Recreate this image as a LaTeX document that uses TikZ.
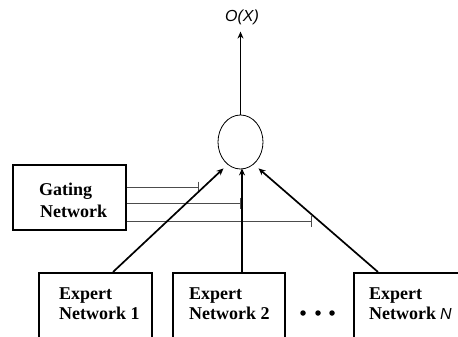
\documentclass[tikz,border=0pt]{standalone}
\usepackage{fontspec}
\setmainfont{Liberation Serif}
\setsansfont{Liberation Sans}
\usetikzlibrary{arrows.meta,calc,shapes.geometric}
\begin{document}
\begin{tikzpicture}[x=1pt,y=-1pt,
  netbox/.style={draw,line width=1.7pt,rectangle,inner sep=0pt},
  lbl/.style={font=\fontsize{18}{21}\selectfont\bfseries,anchor=base west,inner sep=0pt},
  feed/.style={line width=1.7pt,-{Stealth[length=7pt,width=6pt]}},
  gate/.style={line width=0.9pt,draw=black!70,-{Bar[width=11pt,line width=0.9pt]}},
  dotc/.style={circle,fill=black,inner sep=0pt,minimum size=5.5pt}]
\useasboundingbox (0,0) rectangle (458,337);
\begin{scope}
\clip (0,0) rectangle (458,337);
% output unit
\node[ellipse,draw,line width=0.8pt,minimum width=45pt,minimum height=54pt,inner sep=0pt] (c) at (240.5,142) {};
\node[font=\fontsize{16}{18}\sffamily\itshape,inner sep=0pt] (o) at (242,17) {O(X)};
\draw[feed] (c.north) -- ($(c.north)+(0,-83)$) coordinate (otip);
% gating
\node[netbox,minimum width=113pt,minimum height=65pt] (g) at (69.5,197.5) {};
\node[lbl] (g1) at (39,195) {Gating};
\node[lbl] (g2) at (40,217) {Network};
\coordinate (t1) at (199,187);
\coordinate (t2) at (241,203);
\coordinate (t3) at (312,221);
\draw[gate] (g.east |- t1) -- (t1);
\draw[gate] (g.east |- t2) -- (t2);
\draw[gate] (g.east |- t3) -- (t3);
% experts
\node[netbox,minimum width=113pt,minimum height=90pt,anchor=north west] (e1) at (38,272) {};
\node[netbox,minimum width=112pt,minimum height=90pt,anchor=north west] (e2) at (172,272) {};
\node[netbox,minimum width=120pt,minimum height=90pt,anchor=north west] (en) at (353,272) {};
\node[lbl] (e1a) at (59,299) {Expert};
\node[lbl] (e1b) at (59,319) {Network 1};
\node[lbl] (e2a) at (189,299) {Expert};
\node[lbl] (e2b) at (189,319) {Network 2};
\node[lbl] (ena) at (369,299) {Expert};
\node[lbl] (enb) at (369,319) {Network};
\node[font=\fontsize{16}{18}\sffamily\itshape,anchor=base west,inner sep=0pt] (nn) at (440,319) {N};
\node[dotc] (d1) at (303,313) {};
\node[dotc] (d2) at (318,313) {};
\node[dotc] (d3) at (332,313) {};
% feeds
\draw[feed] ($(e1.north west)+(75,0)$) -- ($(c.south)+(-17,-1)$);
\draw[feed] ($(e2.north west)+(70,0)$) -- ($(c.south)+(1.5,-1)$);
\draw[feed] ($(en.north west)+(25,0)$) -- ($(c.south)+(18,-1)$);
\end{scope}
\end{tikzpicture}
\end{document}
